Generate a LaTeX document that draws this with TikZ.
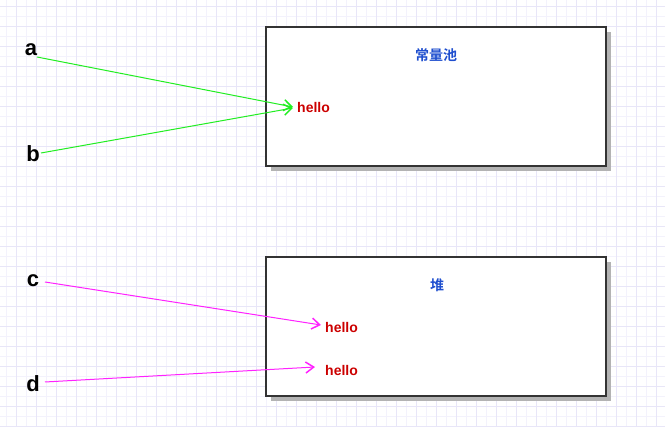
\documentclass[tikz,border=0pt]{standalone}
\usepackage{fontspec}
\setmainfont{Liberation Sans}
\newfontfamily\cjk{Noto Sans CJK SC}[BoldFont={Noto Sans CJK SC Bold}]
\usetikzlibrary{arrows.meta}
\definecolor{gridc}{HTML}{E8E6F8}
\definecolor{gridl}{HTML}{F3F2FC}
\definecolor{boxc}{HTML}{333333}
\definecolor{shadowc}{HTML}{B3B3B3}
\definecolor{hc}{HTML}{CC0000}
\definecolor{tc}{HTML}{1F4FCF}
\definecolor{gr}{HTML}{22EE22}
\definecolor{mg}{HTML}{FF22FF}
\tikzset{
  var/.style={font=\bfseries\fontsize{22}{22}\selectfont, inner sep=0pt, anchor=center},
  hellotxt/.style={text=hc, font=\bfseries\fontsize{14}{14}\selectfont, inner sep=0pt, anchor=west},
  titletxt/.style={text=tc, font=\cjk\bfseries\fontsize{14}{14}\selectfont, inner sep=0pt},
  poolbox/.style={draw=boxc, line width=2pt, fill=white},
  shadowbox/.style={fill=shadowc, draw=none},
  garrow/.style={draw=gr, line width=1pt, -{Straight Barb[length=8pt,width=11pt,line width=1.5pt]}},
  marrow/.style={draw=mg, line width=1pt, -{Straight Barb[length=8pt,width=11pt,line width=1.5pt]}},
}
\begin{document}
\begin{tikzpicture}[x=1pt,y=-1pt]
\useasboundingbox (0,0) rectangle (665,427);
\fill[white] (0,0) rectangle (665,427);
\foreach \x in {6,16,...,665} \draw[gridl, line width=1pt] (\x,0) -- (\x,427);
\foreach \y in {7,17,...,427} \draw[gridl, line width=1pt] (0,\y) -- (665,\y);
\foreach \x in {16,36,...,665} \draw[gridc, line width=1pt] (\x,0) -- (\x,427);
\foreach \y in {7,27,...,427} \draw[gridc, line width=1pt] (0,\y) -- (665,\y);
% boxes
\fill[shadowbox] (271,32) rectangle (611,171);
\draw[poolbox] (266,27) rectangle (606,166);
\fill[shadowbox] (271,262) rectangle (611,401);
\draw[poolbox] (266,257) rectangle (606,396);
\node[titletxt] (t1) at (436,55) {常量池};
\node[titletxt] (t2) at (437,285) {堆};
% hello nodes
\node[hellotxt] (h1) at (297,108) {hello};
\node[hellotxt] (h2) at (325,327) {hello};
\node[hellotxt] (h3) at (325,370) {hello};
% vars
\node[var] (a) at (31,50) {a};
\node[var] (b) at (33,154) {b};
\node[var] (c) at (33,281) {c};
\node[var] (d) at (33,384) {d};
\coordinate (h1a) at (293,107);
\coordinate (h1b) at (293,108);
\coordinate (h2a) at (321,325);
\coordinate (h3a) at (315,367);
\draw[garrow] ([xshift=6pt,yshift=-7pt]a.center) -- (h1a);
\draw[garrow] ([xshift=8pt,yshift=1pt]b.center) -- (h1b);
\draw[marrow] ([xshift=12pt,yshift=-1pt]c.center) -- (h2a);
\draw[marrow] ([xshift=12pt,yshift=2pt]d.center) -- (h3a);
\end{tikzpicture}
\end{document}
